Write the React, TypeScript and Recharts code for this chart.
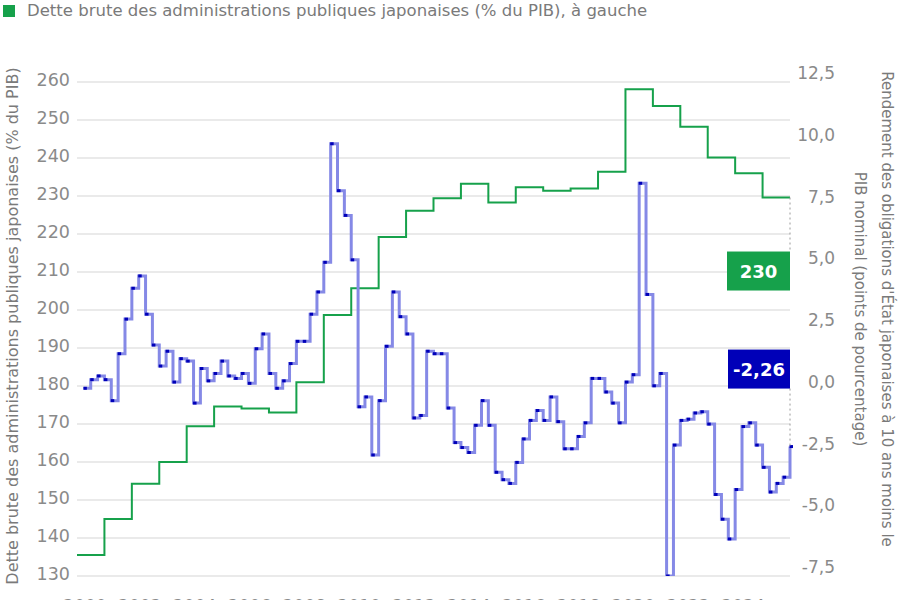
import React from 'react';
import { ComposedChart, Line, XAxis, YAxis, CartesianGrid, ReferenceDot } from 'recharts';

// ---- Data ----
const years = [
  2000, 2001, 2002, 2003, 2004, 2005, 2006, 2007, 2008, 2009, 2010, 2011, 2012,
  2013, 2014, 2015, 2016, 2017, 2018, 2019, 2020, 2021, 2022, 2023, 2024, 2025,
];

// Dette brute des administrations publiques japonaises (% du PIB), annuelle
const debtPctGdp = [
  135.5, 145.0, 154.3, 160.0, 169.4, 174.6, 174.1, 173.0, 181.0, 198.7, 205.7, 219.2, 226.1,
  229.4, 233.2, 228.3, 232.3, 231.4, 232.0, 236.4, 258.1, 253.7, 248.2, 240.1, 236.0, 229.6,
];

// Rendement OAT japonaises 10 ans moins PIB nominal (points de %), trimestriel 2000T1 -> 2025T4
const yieldMinusGrowth = [
  0.1, 0.45, 0.6, 0.45,
  -0.4, 1.5, 2.9, 4.15,
  4.65, 3.1, 1.85, 1.0,
  1.6, 0.35, 1.3, 1.2,
  -0.5, 0.9, 0.4, 0.7,
  1.2, 0.6, 0.5, 0.7,
  0.3, 1.7, 2.3, 0.7,
  0.1, 0.4, 1.1, 2.0,
  2.0, 3.1, 4.0, 5.2,
  10.0, 8.1, 7.1, 5.3,
  -0.65, -0.25, -2.6, -0.4,
  1.8, 4.0, 3.0, 2.3,
  -1.1, -1.0, 1.6, 1.5,
  1.5, -0.7, -2.1, -2.3,
  -2.5, -1.4, -0.4, -1.4,
  -3.3, -3.6, -3.75, -2.9,
  -1.95, -1.2, -0.8, -1.2,
  -0.25, -1.25, -2.35, -2.35,
  -1.85, -1.3, 0.5, 0.5,
  -0.05, -0.5, -1.3, 0.35,
  0.65, 8.4, 3.9, 0.2,
  0.7, -7.5, -2.2, -1.2,
  -1.15, -0.9, -0.85, -1.35,
  -4.2, -5.2, -6.0, -4.0,
  -1.45, -1.3, -2.2, -3.1,
  -4.1, -3.75, -3.5, -2.26,
];

const leftTicks = [130, 140, 150, 160, 170, 180, 190, 200, 210, 220, 230, 240, 250, 260];
const rightTicks = [-7.5, -5, -2.5, 0, 2.5, 5, 7.5, 10, 12.5];
const xTicks = [2000, 2002, 2004, 2006, 2008, 2010, 2012, 2014, 2016, 2018, 2020, 2022, 2024];

const legendText = 'Dette brute des administrations publiques japonaises (% du PIB), à gauche';
const leftTitle = 'Dette brute des administrations publiques japonaises (% du PIB)';
const rightTitle1 = "Rendement des obligations d'État japonaises à 10 ans moins le";
const rightTitle2 = 'PIB nominal (points de pourcentage)';

// ---- Derived tables ----
const lastYear = years[years.length - 1];
const lastDebt = debtPctGdp[debtPctGdp.length - 1];
const lastGap = yieldMinusGrowth[yieldMinusGrowth.length - 1];

const debtData = years
  .map((y, i) => ({ t: y, debt: debtPctGdp[i] }))
  .concat([{ t: lastYear + 1, debt: lastDebt }]);

const gapData = yieldMinusGrowth.map((v, i) => ({ t: years[0] + (i + 1) / 4, gap: v }));

const GREEN = '#16a14b';
const BLUE_LIGHT = '#8589e6';
const BLUE_DARK = '#0000b8';
const TICK_COLOR = '#8a8a8a';
const TITLE_COLOR = '#7a7a7a';
const FONT = "'DejaVu Sans', sans-serif";

const fmtRight = (v: number) => v.toFixed(1).replace('.', ',');

const LeftTick = (props: any) => {
  const { x, y, payload } = props;
  return (
    <text x={x + 1} y={y} dy={4} textAnchor="end" fontSize={17.5} fill={TICK_COLOR} fontFamily={FONT}>
      {payload.value}
    </text>
  );
};

const RightTick = (props: any) => {
  const { x, y, payload } = props;
  return (
    <text x={x + 37} y={y} dy={-3} textAnchor="end" fontSize={17} fill={TICK_COLOR} fontFamily={FONT}>
      {fmtRight(payload.value)}
    </text>
  );
};

const BottomTick = (props: any) => {
  const { x, y, payload } = props;
  return (
    <text x={x + 8} y={y} dy={28} textAnchor="middle" fontSize={17} fill={TICK_COLOR} fontFamily={FONT}>
      {payload.value}
    </text>
  );
};

const GapDot = (props: any) => {
  const { cx, cy, index } = props;
  if (cx == null || cy == null) return <g key={index} />;
  return <rect key={index} x={cx - 0.5} y={cy - 1.5} width={3.5} height={3} fill={BLUE_DARK} />;
};

const DebtBadge = (props: any) => {
  const { cx, cy } = props;
  if (cx == null || cy == null) return <g />;
  return (
    <g>
      <line x1={cx} y1={cy} x2={cx} y2={cy + 54} stroke="#9a9a9a" strokeWidth={1} strokeDasharray="2 3" />
      <rect x={cx - 63} y={cy + 54} width={63} height={39} fill={GREEN} />
      <text x={cx - 31.5} y={cy + 54 + 26} textAnchor="middle" fontSize={18} fontWeight="bold" fill="#ffffff" fontFamily={FONT}>
        {String(Math.round(lastDebt))}
      </text>
    </g>
  );
};

const GapBadge = (props: any) => {
  const { cx, cy } = props;
  if (cx == null || cy == null) return <g />;
  return (
    <g>
      <line x1={cx} y1={cy - 58} x2={cx} y2={cy} stroke="#9a9a9a" strokeWidth={1} strokeDasharray="2 3" />
      <rect x={cx - 62} y={cy - 97} width={62} height={39} fill={BLUE_DARK} />
      <text x={cx - 31} y={cy - 97 + 26} textAnchor="middle" fontSize={18} fontWeight="bold" fill="#ffffff" fontFamily={FONT}>
        {lastGap.toFixed(2).replace('.', ',')}
      </text>
    </g>
  );
};

const LeftTitle = () => (
  <text
    x={18}
    y={326}
    transform="rotate(-90 18 326)"
    textAnchor="middle"
    fontSize={16}
    fill={TITLE_COLOR}
    fontFamily={FONT}
  >
    {leftTitle}
  </text>
);

const RightTitle = () => (
  <g>
    <text x={882} y={309} transform="rotate(90 882 309)" textAnchor="middle" fontSize={15} fill={TITLE_COLOR} fontFamily={FONT}>
      {rightTitle1}
    </text>
    <text x={855} y={309} transform="rotate(90 855 309)" textAnchor="middle" fontSize={15} fill={TITLE_COLOR} fontFamily={FONT}>
      {rightTitle2}
    </text>
  </g>
);

export default function App() {
  return (
    <div style={{ position: 'absolute', left: 0, top: 0, width: 900, height: 625, background: '#ffffff', overflow: 'hidden' }}>
      <div style={{ position: 'absolute', left: 3, top: 1, display: 'flex', alignItems: 'center', fontFamily: FONT, fontSize: 16.5, color: '#7a7a7a', whiteSpace: 'nowrap', zIndex: 2 }}>
        <span style={{ display: 'inline-block', width: 12, height: 12, background: GREEN, marginRight: 12 }} />
        <span>{legendText}</span>
      </div>
      <ComposedChart width={900} height={625} margin={{ top: 82, right: 0, bottom: 0, left: 0 }}>
        <CartesianGrid yAxisId="left" horizontal vertical={false} stroke="#e3e3e3" strokeWidth={1.5} />
        <XAxis
          dataKey="t"
          type="number"
          domain={[years[0], lastYear + 1]}
          ticks={xTicks}
          tick={<BottomTick />}
          axisLine={false}
          tickLine={false}
          height={49}
          allowDuplicatedCategory={false}
        />
        <YAxis
          yAxisId="left"
          orientation="left"
          type="number"
          domain={[130, 260]}
          ticks={leftTicks}
          width={77}
          axisLine={false}
          tickLine={false}
          tick={<LeftTick />}
          interval={0}
        />
        <YAxis
          yAxisId="right"
          orientation="right"
          type="number"
          domain={[-7.5, 12.5]}
          ticks={rightTicks}
          width={110}
          axisLine={false}
          tickLine={false}
          tick={<RightTick />}
          interval={0}
          allowDataOverflow
        />
        <Line
          yAxisId="left"
          data={debtData}
          dataKey="debt"
          type="stepAfter"
          stroke={GREEN}
          strokeWidth={2}
          dot={false}
          activeDot={false}
          isAnimationActive={false}
        />
        <Line
          yAxisId="right"
          data={gapData}
          dataKey="gap"
          type="stepAfter"
          stroke={BLUE_LIGHT}
          strokeWidth={3}
          dot={<GapDot />}
          activeDot={false}
          isAnimationActive={false}
        />
        <ReferenceDot yAxisId="left" x={lastYear + 1} y={lastDebt} r={0} shape={<DebtBadge />} ifOverflow="visible" />
        <ReferenceDot yAxisId="right" x={lastYear + 1} y={lastGap} r={0} shape={<GapBadge />} ifOverflow="visible" />
        <LeftTitle />
        <RightTitle />
      </ComposedChart>
    </div>
  );
}
